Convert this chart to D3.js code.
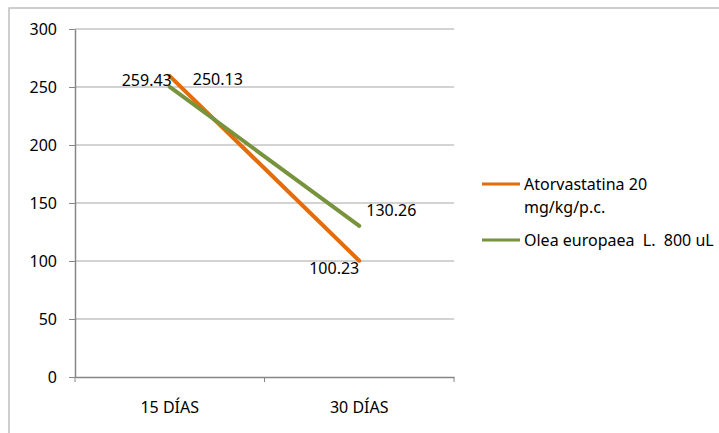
<!DOCTYPE html>
<html>
<head>
<meta charset="utf-8">
<script src="https://cdn.jsdelivr.net/npm/d3@7"></script>
<style>
    body { margin: 0; background: #fff; }
    text { font-family: "Noto Sans", "Open Sans", sans-serif; font-size: 16px; fill: #000; white-space: pre; }
</style>
</head>
<body>
<svg id="chart" width="719" height="433"></svg>
<script>
// datos
const categories = ["15 DÍAS", "30 DÍAS"];
const atorvastatina = [259.43, 100.23];
const olea = [250.13, 130.26];
const yTicks = [0, 50, 100, 150, 200, 250, 300];
const seriesNames = [["Atorvastatina 20", "mg/kg/p.c."], ["Olea europaea  L.  800 uL"]];

let svg = d3.select("#chart");
let margin = {top: 29, left: 75, right: 265, bottom: 56};
let width = 719 - margin.left - margin.right,
    height = 433 - margin.top - margin.bottom;

// borde exterior
svg.append("rect")
    .attr("x", 9).attr("y", 8)
    .attr("width", 719).attr("height", 433)
    .attr("fill", "none")
    .attr("stroke", "#bfbfbf")
    .attr("stroke-width", 1.5);

let g = svg.append("g")
    .attr("transform", "translate(" + margin.left + "," + margin.top + ")");

let x = d3.scaleBand().domain(categories).range([0, width]);
let y = d3.scaleLinear().domain([0, 300]).range([height, 0]);

// lineas de cuadricula
g.selectAll("line.grid")
    .data(yTicks.filter(d => d > 0))
    .enter().append("line")
    .attr("class", "grid")
    .attr("x1", 0).attr("x2", width)
    .attr("y1", d => y(d)).attr("y2", d => y(d))
    .attr("stroke", "#a6a6a6")
    .attr("stroke-width", 1);

let yAxis = g.append("g")
    .call(d3.axisLeft(y).tickValues(yTicks).tickSize(6).tickPadding(12).tickSizeOuter(0));
yAxis.select(".domain").attr("stroke", "#868686").attr("stroke-width", 1.5);
yAxis.selectAll(".tick line").attr("stroke", "#868686");
yAxis.selectAll("text").attr("font-size", 16).attr("font-family", null);

let xAxis = g.append("g")
    .attr("transform", "translate(0," + height + ")")
    .call(d3.axisBottom(x).tickSize(0).tickPadding(25).tickSizeOuter(0));
xAxis.select(".domain").attr("stroke", "#868686").attr("stroke-width", 1.5);
xAxis.selectAll("text").attr("font-size", 16).attr("font-family", null);
// marcas entre categorias
xAxis.selectAll("line.sep")
    .data([0, 1, 2])
    .enter().append("line")
    .attr("class", "sep")
    .attr("x1", d => d * x.bandwidth()).attr("x2", d => d * x.bandwidth())
    .attr("y1", 0).attr("y2", 5)
    .attr("stroke", "#868686");

let cx = d => x(d) + x.bandwidth() / 2;
let line = d3.line().x((d, i) => cx(categories[i])).y(d => y(d));

let series = [
    {values: atorvastatina, color: "#e46c0a"},
    {values: olea, color: "#77933c"}
];

series.forEach(function (s) {
    g.append("path")
        .datum(s.values)
        .attr("d", line)
        .attr("fill", "none")
        .attr("stroke", s.color)
        .attr("stroke-width", 4)
        .attr("stroke-linecap", "round");
});

// etiquetas de datos (posiciones como en el original)
let labels = [
    {v: atorvastatina[0], i: 0, anchor: "end", dx: 2, dy: 4},
    {v: olea[0], i: 0, anchor: "start", dx: 23, dy: -7},
    {v: olea[1], i: 1, anchor: "start", dx: 7, dy: -15},
    {v: atorvastatina[1], i: 1, anchor: "end", dx: 0, dy: 8}
];
g.selectAll("text.lbl")
    .data(labels)
    .enter().append("text")
    .attr("class", "lbl")
    .attr("x", d => cx(categories[d.i]) + d.dx)
    .attr("y", d => y(d.v) + d.dy)
    .attr("dy", "0.35em")
    .attr("text-anchor", d => d.anchor)
    .text(d => d.v.toFixed(2));

// leyenda
let legend = svg.append("g").attr("class", "legend").attr("transform", "translate(482,184)");
let legendY = [0, 56];
series.forEach(function (s, i) {
    let item = legend.append("g").attr("transform", "translate(0," + legendY[i] + ")");
    item.append("line")
        .attr("x1", 0).attr("x2", 38)
        .attr("stroke", s.color).attr("stroke-width", 3);
    item.selectAll("text")
        .data(seriesNames[i])
        .enter().append("text")
        .attr("x", 42)
        .attr("y", (d, j) => j * 23)
        .attr("dy", "0.35em")
        .text(d => d);
});
</script>
</body>
</html>
